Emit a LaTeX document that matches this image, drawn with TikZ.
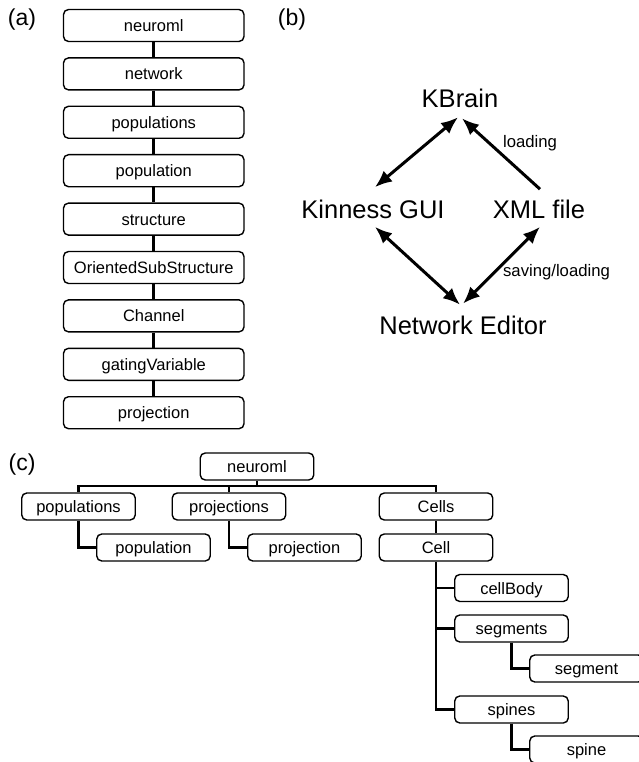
\documentclass[tikz,border=0pt]{standalone}
\usepackage{fontspec}
\setmainfont{Liberation Sans}
\usetikzlibrary{arrows.meta,calc}
\begin{document}
\begin{tikzpicture}[x=1pt,y=-1pt,
 box/.style={draw, line width=1.4pt, rounded corners=5pt, minimum width=180.5pt, minimum height=32pt, inner sep=0pt, font=\fontsize{16.5}{19}\selectfont, text height=12pt, text depth=0pt},
 cbox/.style={box, minimum width=113.5pt, minimum height=27pt},
 link/.style={line width=2.7pt},
 big/.style={font=\fontsize{25.5}{30}\selectfont, inner sep=0pt, text height=18.3pt, text depth=0pt},
 lbl/.style={font=\fontsize{16.7}{20}\selectfont, inner sep=0pt},
 tip/.tip={Latex[length=17pt,width=14pt]},
 arr/.style={line width=3pt, -tip},
 darr/.style={line width=3pt, tip-tip},
 panel/.style={font=\fontsize{23}{27}\selectfont, inner sep=0pt}
]
\useasboundingbox (0,0) rectangle (639,762);
\clip (0,0) rectangle (639,762);

% panel labels
\node[panel] (la) at (22,20) {(a)};
\node[panel] (lb) at (292,20) {(b)};
\node[panel] (lc) at (22,465) {(c)};

% ---------- (a)
\node[box] (a1) at (153.75,25.5) {neuroml};
\node[box] (a2) at (153.75,73.9) {network};
\node[box] (a3) at (153.75,122.3) {populations};
\node[box] (a4) at (153.75,170.7) {population};
\node[box] (a5) at (153.75,219.1) {structure};
\node[box] (a6) at (153.75,267.5) {OrientedSubStructure};
\node[box] (a7) at (153.75,315.9) {Channel};
\node[box] (a8) at (153.75,364.3) {gatingVariable};
\node[box] (a9) at (153.75,412.7) {projection};
\foreach \i [evaluate=\i as \j using int(\i+1)] in {1,...,8}
  \draw[link] (a\i) -- (a\j);

% ---------- (b)
\node[big] (kb) at (460,98) {KBrain};
\node[big] (kgui) at (373,209.5) {Kinness GUI};
\node[big] (xml) at (539,209.5) {XML file};
\node[big] (ne) at (463,325) {Network Editor};
\node[lbl] (lload) at (530,143.5) {loading};
\node[lbl] (lsave) at (556.5,272) {saving/loading};

\draw[darr] ([shift={(2,-13)}]kgui.north) -- ([shift={(-2,10)}]kb.south);
\draw[arr] ([shift={(1,-11)}]xml.north) -- ([shift={(2,11)}]kb.south);
\draw[darr] ([shift={(2,8)}]kgui.south) -- ([shift={(-3,-11)}]ne.north);
\draw[darr] ([shift={(1,8)}]xml.south) -- ([shift={(0,-12)}]ne.north);

% ---------- (c)
\node[cbox] (cnm) at (257,466.5) {neuroml};
\node[cbox] (cpops) at (78.5,506.5) {populations};
\node[cbox] (cpop) at (153.5,547.5) {population};
\node[cbox] (cprojs) at (229,506.5) {projections};
\node[cbox] (cproj) at (304.5,547.5) {projection};
\node[cbox] (ccells) at (436,506.5) {Cells};
\node[cbox] (ccell) at (436,547.5) {Cell};
\node[cbox] (cbody) at (511.5,588) {cellBody};
\node[cbox] (csegs) at (511.5,628.5) {segments};
\node[cbox] (cseg) at (586.5,668.5) {segment};
\node[cbox] (cspines) at (511.5,709.5) {spines};
\node[cbox] (cspine) at (586.5,749.5) {spine};

\coordinate (bus) at (0,486);
\draw[link] (cpops.north) -- (cpops.north |- bus) -- (ccells.north |- bus) -- (ccells.north);
\draw[link] (cnm.south) -- (cnm.south |- bus);
\draw[link] (cprojs.north) -- (cprojs.north |- bus);
\draw[link] (cpops.south) |- (cpop.west);
\draw[link] (cprojs.south) |- (cproj.west);
\draw[link] (ccells) -- (ccell);
\draw[link] (ccell.south) |- (cspines.west);
\draw[link] (ccell.south |- cbody.west) -- (cbody.west);
\draw[link] (ccell.south |- csegs.west) -- (csegs.west);
\draw[link] (csegs.south) |- (cseg.west);
\draw[link] (cspines.south) |- (cspine.west);
\end{tikzpicture}
\end{document}
